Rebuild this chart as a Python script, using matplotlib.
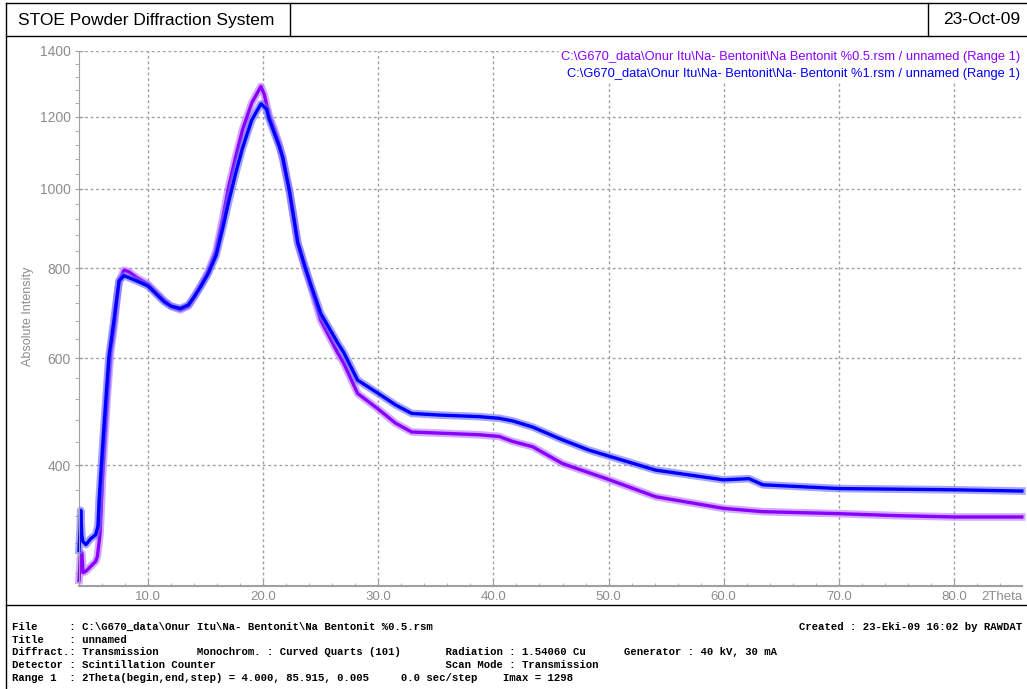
import matplotlib

matplotlib.use("Agg")
import matplotlib.pyplot as plt
import numpy as np
from matplotlib.ticker import FixedLocator, MultipleLocator, FormatStrFormatter

# Na Bentonit %0.5 scan (2Theta in degrees, counts)
two_theta_05 = [4.0, 4.12, 4.25, 4.35, 4.6, 5.0, 5.45, 5.6, 5.7, 5.83, 6.03, 6.23,
                6.46, 6.76, 7.04, 7.3, 7.5, 7.9, 8.3, 9.0, 10.0, 11.4, 12.0, 12.8,
                13.5, 14.0, 14.6, 15.2, 15.9, 16.5, 17.0, 17.6, 18.2, 19.0, 19.8,
                20.1, 20.5, 21.0, 21.4, 21.7, 22.3, 23.0, 23.6, 24.15, 25.0, 26.5,
                27.0, 28.2, 30.0, 31.5, 32.9, 35.3, 38.8, 40.5, 41.7, 43.4, 46.0,
                49.8, 54.1, 60.0, 63.4, 70.0, 75.0, 80.0, 85.9]
counts_05 = [230, 262, 266, 240, 242, 248, 255, 262, 275, 294, 376, 444,
             524, 617, 665, 730, 770, 795, 792, 778, 762, 725, 712, 704,
             712, 733, 760, 790, 840, 925, 1005, 1085, 1162, 1240, 1290,
             1265, 1205, 1160, 1120, 1080, 990, 860, 803, 756, 681, 610,
             590, 530, 500, 474, 458, 456, 453, 450, 441, 432, 403,
             378, 349, 331, 326, 323, 320, 318, 318]

# Na- Bentonit %1 scan
two_theta_1 = [4.0, 4.1, 4.15, 4.25, 4.35, 4.6, 5.0, 5.45, 5.65, 5.75, 5.9, 6.17,
               6.6, 7.04, 7.48, 7.9, 8.3, 9.0, 10.0, 11.4, 12.0, 12.8, 13.5, 14.0,
               14.6, 15.2, 15.9, 16.5, 17.0, 17.6, 18.2, 19.0, 19.8, 20.3, 20.5,
               21.0, 21.4, 21.7, 22.3, 23.0, 23.6, 24.15, 25.0, 26.5, 27.0, 28.2,
               30.0, 31.5, 32.9, 35.3, 38.8, 40.5, 41.7, 43.4, 46.0, 48.3, 49.8,
               54.1, 60.0, 62.2, 63.4, 70.0, 75.0, 80.0, 85.9]
counts_1 = [270, 300, 328, 290, 282, 278, 286, 292, 305, 344, 387, 467,
            603, 681, 770, 782, 778, 770, 758, 722, 712, 707, 715, 733,
            758, 786, 830, 900, 965, 1040, 1110, 1190, 1238, 1222, 1195,
            1150, 1115, 1085, 990, 862, 806, 760, 696, 631, 612, 556,
            530, 508, 492, 489, 486, 483, 478, 467, 444, 426, 417,
            392, 376, 378, 368, 362, 361, 360, 358]

y_major = [400, 600, 800, 1000, 1200, 1400]
y_minor = list(range(240, 1400, 40))

legend_05 = r"C:\G670_data\Onur Itu\Na- Bentonit\Na Bentonit %0.5.rsm / unnamed (Range 1)"
legend_1 = r"C:\G670_data\Onur Itu\Na- Bentonit\Na- Bentonit %1.rsm / unnamed (Range 1)"

info_lines = [
    r"File     : C:\G670_data\Onur Itu\Na- Bentonit\Na Bentonit %0.5.rsm",
    "Title    : unnamed",
    "Diffract.: Transmission      Monochrom. : Curved Quarts (101)       "
    "Radiation : 1.54060 Cu      Generator : 40 kV, 30 mA",
    "Detector : Scintillation Counter                                    "
    "Scan Mode : Transmission",
    "Range 1  : 2Theta(begin,end,step) = 4.000, 85.915, 0.005     0.0 sec/step    Imax = 1298",
]
created = "Created : 23-Eki-09 16:02 by RAWDAT"

PURPLE, PURPLE_LIGHT = "#8a00ff", "#b676ff"
BLUE, BLUE_LIGHT = "#0000ff", "#6a6aff"
GREY = "#8c8c8c"
SANS = ["Liberation Sans", "DejaVu Sans"]

W, H = 1027, 689
fig = plt.figure(figsize=(W / 100, H / 100), dpi=100)

# page frame, header and info block, in pixel coordinates
page = fig.add_axes([0, 0, 1, 1])
page.set_xlim(0, W)
page.set_ylim(H, 0)
page.axis("off")
for xs, ys in [((6, W), (3, 3)), ((6, W), (36, 36)), ((6, 6), (3, H)),
               ((290, 290), (3, 36)), ((928, 928), (3, 36)), ((6, W), (605, 605))]:
    page.plot(xs, ys, color="black", lw=1)
page.text(18, 20, "STOE Powder Diffraction System", fontsize=12.5, family=SANS, va="center")
page.text(1020, 20, "23-Oct-09", fontsize=12.5, family=SANS, va="center", ha="right")
for i, line in enumerate(info_lines):
    page.text(12, 627 + i * 12.7, line, family="Liberation Mono", fontweight="bold",
              fontsize=7.7, va="center")
page.text(1022, 627, created, family="Liberation Mono", fontweight="bold",
          fontsize=7.7, va="center", ha="right")
page.text(28, 316, "Absolute Intensity", rotation=90, fontsize=9, family=SANS,
          color=GREY, ha="center", va="center")
page.text(1022, 597, "2Theta", fontsize=9.5, family=SANS, color=GREY, ha="right", va="center")

ax = fig.add_axes([79 / W, 1 - 586 / H, (1022 - 79) / W, (586 - 50.7) / H])
ax.set_facecolor("none")
ax.set_yscale("function", functions=(lambda v: np.sqrt(np.clip(v, 0, None)), np.square))
ax.set_xlim(4.0, 85.915)
ax.set_ylim(223, 1400)

for tt, cc, dark, light in [(two_theta_05, counts_05, PURPLE, PURPLE_LIGHT),
                            (two_theta_1, counts_1, BLUE, BLUE_LIGHT)]:
    ax.plot(tt, cc, color=light, lw=5.5, alpha=0.6, solid_joinstyle="round", clip_on=False)
    ax.plot(tt, cc, color=dark, lw=2.4, solid_joinstyle="round", clip_on=False)

ax.yaxis.set_major_locator(FixedLocator(y_major))
ax.yaxis.set_minor_locator(FixedLocator(y_minor))
ax.yaxis.set_minor_formatter(plt.NullFormatter())
ax.xaxis.set_major_locator(MultipleLocator(10))
ax.xaxis.set_minor_locator(MultipleLocator(2))
ax.xaxis.set_major_formatter(FormatStrFormatter("%.1f"))

ax.grid(True, which="major", color="#a0a0a0", linestyle=(0, (2, 2)), linewidth=1)
for side in ("top", "right"):
    ax.spines[side].set_visible(False)
for side in ("left", "bottom"):
    ax.spines[side].set_color("#a0a0a0")
ax.spines["bottom"].set_linewidth(1.5)
ax.tick_params(axis="y", which="major", direction="inout", length=6, color="#a0a0a0",
               labelcolor=GREY, labelsize=10, pad=3)
ax.tick_params(axis="y", which="minor", direction="out", length=3, color="#a0a0a0")
ax.tick_params(axis="x", which="major", direction="in", length=4, color="#a0a0a0",
               labelcolor=GREY, labelsize=9.5, pad=3.5)
ax.tick_params(axis="x", which="minor", direction="in", length=2, color="#a0a0a0")
for lab in ax.get_xticklabels() + ax.get_yticklabels():
    lab.set_family(SANS)

for y, txt, col in [(57, legend_05, PURPLE), (74, legend_1, BLUE)]:
    ax.text(1020, y, txt, transform=page.transData, color=col, fontsize=9.3, family=SANS,
            ha="right", va="center", bbox=dict(facecolor="white", edgecolor="none", pad=1.5))

fig.savefig("out.png", dpi=100)
